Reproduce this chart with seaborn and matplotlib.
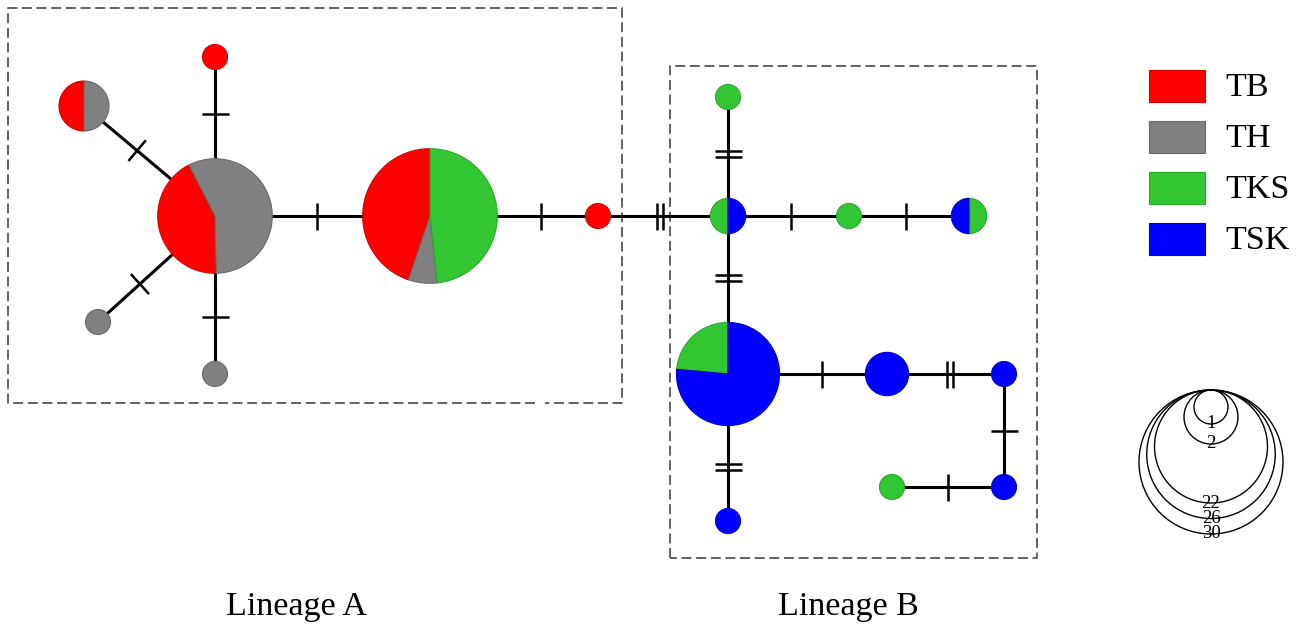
import numpy as np
import pandas as pd
import matplotlib
matplotlib.use("Agg")
import matplotlib.pyplot as plt
from matplotlib.patches import Wedge, Rectangle, Circle
import seaborn as sns

# populations and colours
populations = ["TB", "TH", "TKS", "TSK"]
pop_colors = ["#ff0000", "#808080", "#33c633", "#0000ff"]
pop_edges = ["#d40000", "#6a6a6a", "#2aa62a", "#0000c8"]

# haplotype counts per population
haplotypes = ["A1", "A2", "A3", "A4", "A5", "A6", "A7",
              "B1", "B2", "B3", "B4", "B5", "B6", "B7", "B8", "B9", "B10"]
count_tb = [9, 1, 2, 0, 0, 13, 1, 0, 0, 0, 0, 0, 0, 0, 0, 0, 0]
count_th = [12, 0, 2, 1, 1, 2, 0, 0, 0, 0, 0, 0, 0, 0, 0, 0, 0]
count_tks = [0, 0, 0, 0, 0, 14, 0, 1, 1, 1, 1, 4, 0, 0, 0, 1, 0]
count_tsk = [0, 0, 0, 0, 0, 0, 0, 1, 0, 0, 1, 13, 3, 1, 1, 0, 1]

# network links: (from, to, number of mutations)
links = [("A1", "A2", 1), ("A1", "A3", 1), ("A1", "A4", 1), ("A1", "A5", 1),
         ("A1", "A6", 1), ("A6", "A7", 1), ("A7", "B1", 2), ("B1", "B2", 2),
         ("B1", "B3", 1), ("B3", "B4", 1), ("B1", "B5", 2), ("B5", "B6", 1),
         ("B6", "B7", 2), ("B7", "B8", 1), ("B8", "B9", 1), ("B5", "B10", 2)]

# size legend
size_legend = [1, 2, 22, 26, 30]

W, H = 1310, 624

# node layout (pixels from top-left) and pie start angle
layout = {
    "A1": (215, 216, 117), "A2": (215, 57, 90), "A3": (84, 106, 90),
    "A4": (98, 322, 90), "A5": (215, 374, 90), "A6": (430, 216, 90),
    "A7": (598, 216, 90), "B1": (728, 216, 90), "B2": (728, 97, 90),
    "B3": (849, 216, 90), "B4": (969, 216, 270), "B5": (728, 374, 90),
    "B6": (887, 374, 90), "B7": (1004, 374, 90), "B8": (1004, 487, 90),
    "B9": (892, 487, 90), "B10": (728, 521, 90),
}


def node_radius(n):
    return 12.5 * np.sqrt(n)


def legend_radius(n):
    # piecewise scale of the size key
    return np.interp(n, [1, 2, 22, 30], [17, 27, 56.5, 72])


counts = pd.DataFrame({"TB": count_tb, "TH": count_th, "TKS": count_tks,
                       "TSK": count_tsk}, index=haplotypes)
pos = {k: (v[0], H - v[1]) for k, v in layout.items()}
radius = {h: node_radius(counts.loc[h].sum()) for h in haplotypes}

sns.set_theme(style="white")
plt.rcParams["font.family"] = ["Liberation Serif", "DejaVu Serif"]
plt.rcParams["text.color"] = "black"

fig = plt.figure(figsize=(13.1, 6.24), dpi=100)
ax = fig.add_axes([0, 0, 1, 1])

# edges
rows = []
for i, (a, b, m) in enumerate(links):
    rows.append({"edge": i, "step": 0, "x": pos[a][0], "y": pos[a][1]})
    rows.append({"edge": i, "step": 1, "x": pos[b][0], "y": pos[b][1]})
edges_df = pd.DataFrame(rows)
sns.lineplot(data=edges_df, x="x", y="y", units="edge", estimator=None,
             sort=False, color="black", lw=2.2, legend=False, ax=ax, zorder=1)
ax.set_xlim(0, W)
ax.set_ylim(0, H)
ax.axis("off")

# mutation hatch marks
for a, b, m in links:
    p = np.array(pos[a], float)
    q = np.array(pos[b], float)
    u = (q - p) / np.linalg.norm(q - p)
    nrm = np.array([-u[1], u[0]])
    s = p + u * radius[a]
    e = q - u * radius[b]
    mid = (s + e) / 2
    for k in range(m):
        c = mid + u * (k - (m - 1) / 2) * 6
        t0, t1 = c - nrm * 13.5, c + nrm * 13.5
        ax.plot([t0[0], t1[0]], [t0[1], t1[1]], color="black", lw=1.8,
                solid_capstyle="butt", zorder=1)

# pie nodes
for h in haplotypes:
    x, y = pos[h]
    r = radius[h]
    vals = counts.loc[h].values.astype(float)
    total = vals.sum()
    ang = layout[h][2]
    for v, fc, ec in zip(vals, pop_colors, pop_edges):
        if v == 0:
            continue
        span = 360 * v / total
        ax.add_patch(Wedge((x, y), r, ang, ang + span, facecolor=fc,
                           edgecolor=ec, lw=0.8, zorder=3))
        ang += span

# dashed boxes
box_kw = dict(color="#555555", lw=1.3, linestyle=(0, (5.5, 2.6)), zorder=0)
ax.plot([535, 8, 8, 622, 622, 545], [H - 403, H - 403, H - 8, H - 8, H - 403, H - 403], **box_kw)
ax.plot([670, 670, 1037, 1037, 670], [H - 558, H - 66, H - 66, H - 558, H - 558], **box_kw)

# lineage labels
ax.text(296, H - 615, "Lineage A", ha="center", va="baseline", fontsize=24.5)
ax.text(848, H - 615, "Lineage B", ha="center", va="baseline", fontsize=24.5)

# colour legend
for i, (name, fc, ec) in enumerate(zip(populations, pop_colors, pop_edges)):
    top = 70 + 51 * i
    ax.add_patch(Rectangle((1149, H - top - 32), 56, 32, facecolor=fc,
                           edgecolor=ec, lw=0.8))
    ax.text(1225, H - (96 + 51 * i), name, ha="left", va="baseline",
            fontsize=24.5)

# size legend
for n in size_legend:
    r = legend_radius(n)
    ax.add_patch(Circle((1211, H - 390 - r), r, facecolor="none",
                        edgecolor="black", lw=1.0, zorder=2))
    ax.text(1211, H - 390 - 2 * r, str(n), ha="center", va="center",
            fontsize=13.5, zorder=3)

fig.savefig("out.png", dpi=100)
